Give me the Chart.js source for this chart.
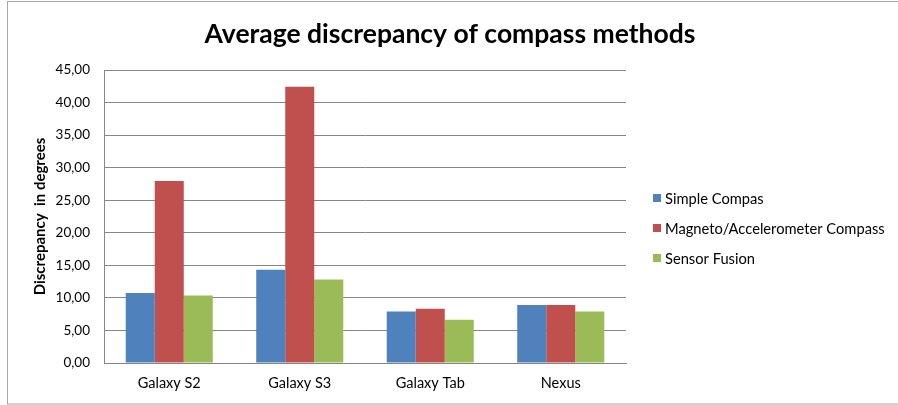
<!DOCTYPE html>
<html>
<head>
<meta charset="utf-8">
<script src="https://cdn.jsdelivr.net/npm/chart.js@4.4.1/dist/chart.umd.min.js"></script>
<style>
  html, body { margin: 0; padding: 0; background: #fff; }
  #wrap { position: relative; width: 898px; height: 405px; }
</style>
</head>
<body>
<div id="wrap"><canvas id="chart" width="898" height="405"></canvas></div>
<script>
// chart data
const devices = ['Galaxy S2', 'Galaxy S3', 'Galaxy Tab', 'Nexus'];
const simpleCompas = [10.74, 14.31, 7.92, 8.90];
const magnetoCompass = [27.97, 42.43, 8.33, 8.90];
const sensorFusion = [10.38, 12.83, 6.65, 7.92];
const yTicks = [0, 5, 10, 15, 20, 25, 30, 35, 40, 45];

const chartTitle = 'Average discrepancy of compass methods';
const yTitle = 'Discrepancy  in degrees';
const fontFamily = 'Lato, "Open Sans", sans-serif';

// frame (left, top, bottom), title and legend drawn by hand
const decorPlugin = {
    id: 'decor',
    beforeDraw(chart) {
        const ctx = chart.ctx;
        ctx.save();
        ctx.fillStyle = '#fff';
        ctx.fillRect(0, 0, chart.width, chart.height);
        ctx.strokeStyle = '#a6a6a6';
        ctx.lineWidth = 1;
        ctx.strokeRect(7.5, 1.5, 900, 402.5);
        ctx.restore();
    },
    afterDraw(chart) {
        const ctx = chart.ctx;
        ctx.save();
        // title
        ctx.fillStyle = '#000';
        ctx.font = 'bold 26.5px ' + fontFamily;
        ctx.textAlign = 'center';
        ctx.textBaseline = 'alphabetic';
        ctx.fillText(chartTitle, 450, 43);

        // legend
        ctx.font = '14.7px ' + fontFamily;
        ctx.textAlign = 'left';
        ctx.textBaseline = 'middle';
        chart.data.datasets.forEach((ds, i) => {
            const cy = 198 + i * 30;
            ctx.fillStyle = ds.backgroundColor;
            ctx.fillRect(653, cy - 4, 8, 8);
            ctx.fillStyle = '#000';
            ctx.fillText(ds.label, 665, cy + 1);
        });
        ctx.restore();
    }
};

const ctx = document.getElementById('chart').getContext('2d');
const chart = new Chart(ctx, {
    type: 'bar',
    data: {
        labels: devices,
        datasets: [
            { label: 'Simple Compas', data: simpleCompas, backgroundColor: '#4F81BD' },
            { label: 'Magneto/Accelerometer Compass', data: magnetoCompass, backgroundColor: '#C0504D' },
            { label: 'Sensor Fusion', data: sensorFusion, backgroundColor: '#9BBB59' }
        ]
    },
    options: {
        responsive: false,
        animation: false,
        layout: { padding: { left: 31, right: 272, top: 70, bottom: 10 } },
        datasets: {
            bar: { categoryPercentage: 0.667, barPercentage: 1.0 }
        },
        plugins: {
            title: { display: false },
            legend: { display: false },
            tooltip: { enabled: false }
        },
        scales: {
            x: {
                afterFit(scale) { scale.height = 32; },
                grid: { display: false, drawTicks: false },
                border: { color: '#868686', width: 1 },
                ticks: {
                    color: '#000',
                    padding: 12,
                    font: { family: fontFamily, size: 14.5 }
                }
            },
            y: {
                min: 0,
                max: 45,
                afterFit(scale) { scale.width = 73; },
                afterBuildTicks(scale) {
                    scale.ticks = yTicks.map(v => ({ value: v }));
                },
                grid: { color: '#868686', lineWidth: 1, drawTicks: false },
                border: { color: '#868686', width: 1 },
                ticks: {
                    color: '#000',
                    padding: 14,
                    font: { family: fontFamily, size: 13.5 },
                    callback: v => v.toFixed(2).replace('.', ',')
                },
                title: {
                    display: true,
                    text: yTitle,
                    color: '#000',
                    font: { family: fontFamily, size: 15, weight: 'bold' },
                    padding: { top: 0, bottom: 0 }
                }
            }
        }
    },
    plugins: [decorPlugin]
});
</script>
</body>
</html>
